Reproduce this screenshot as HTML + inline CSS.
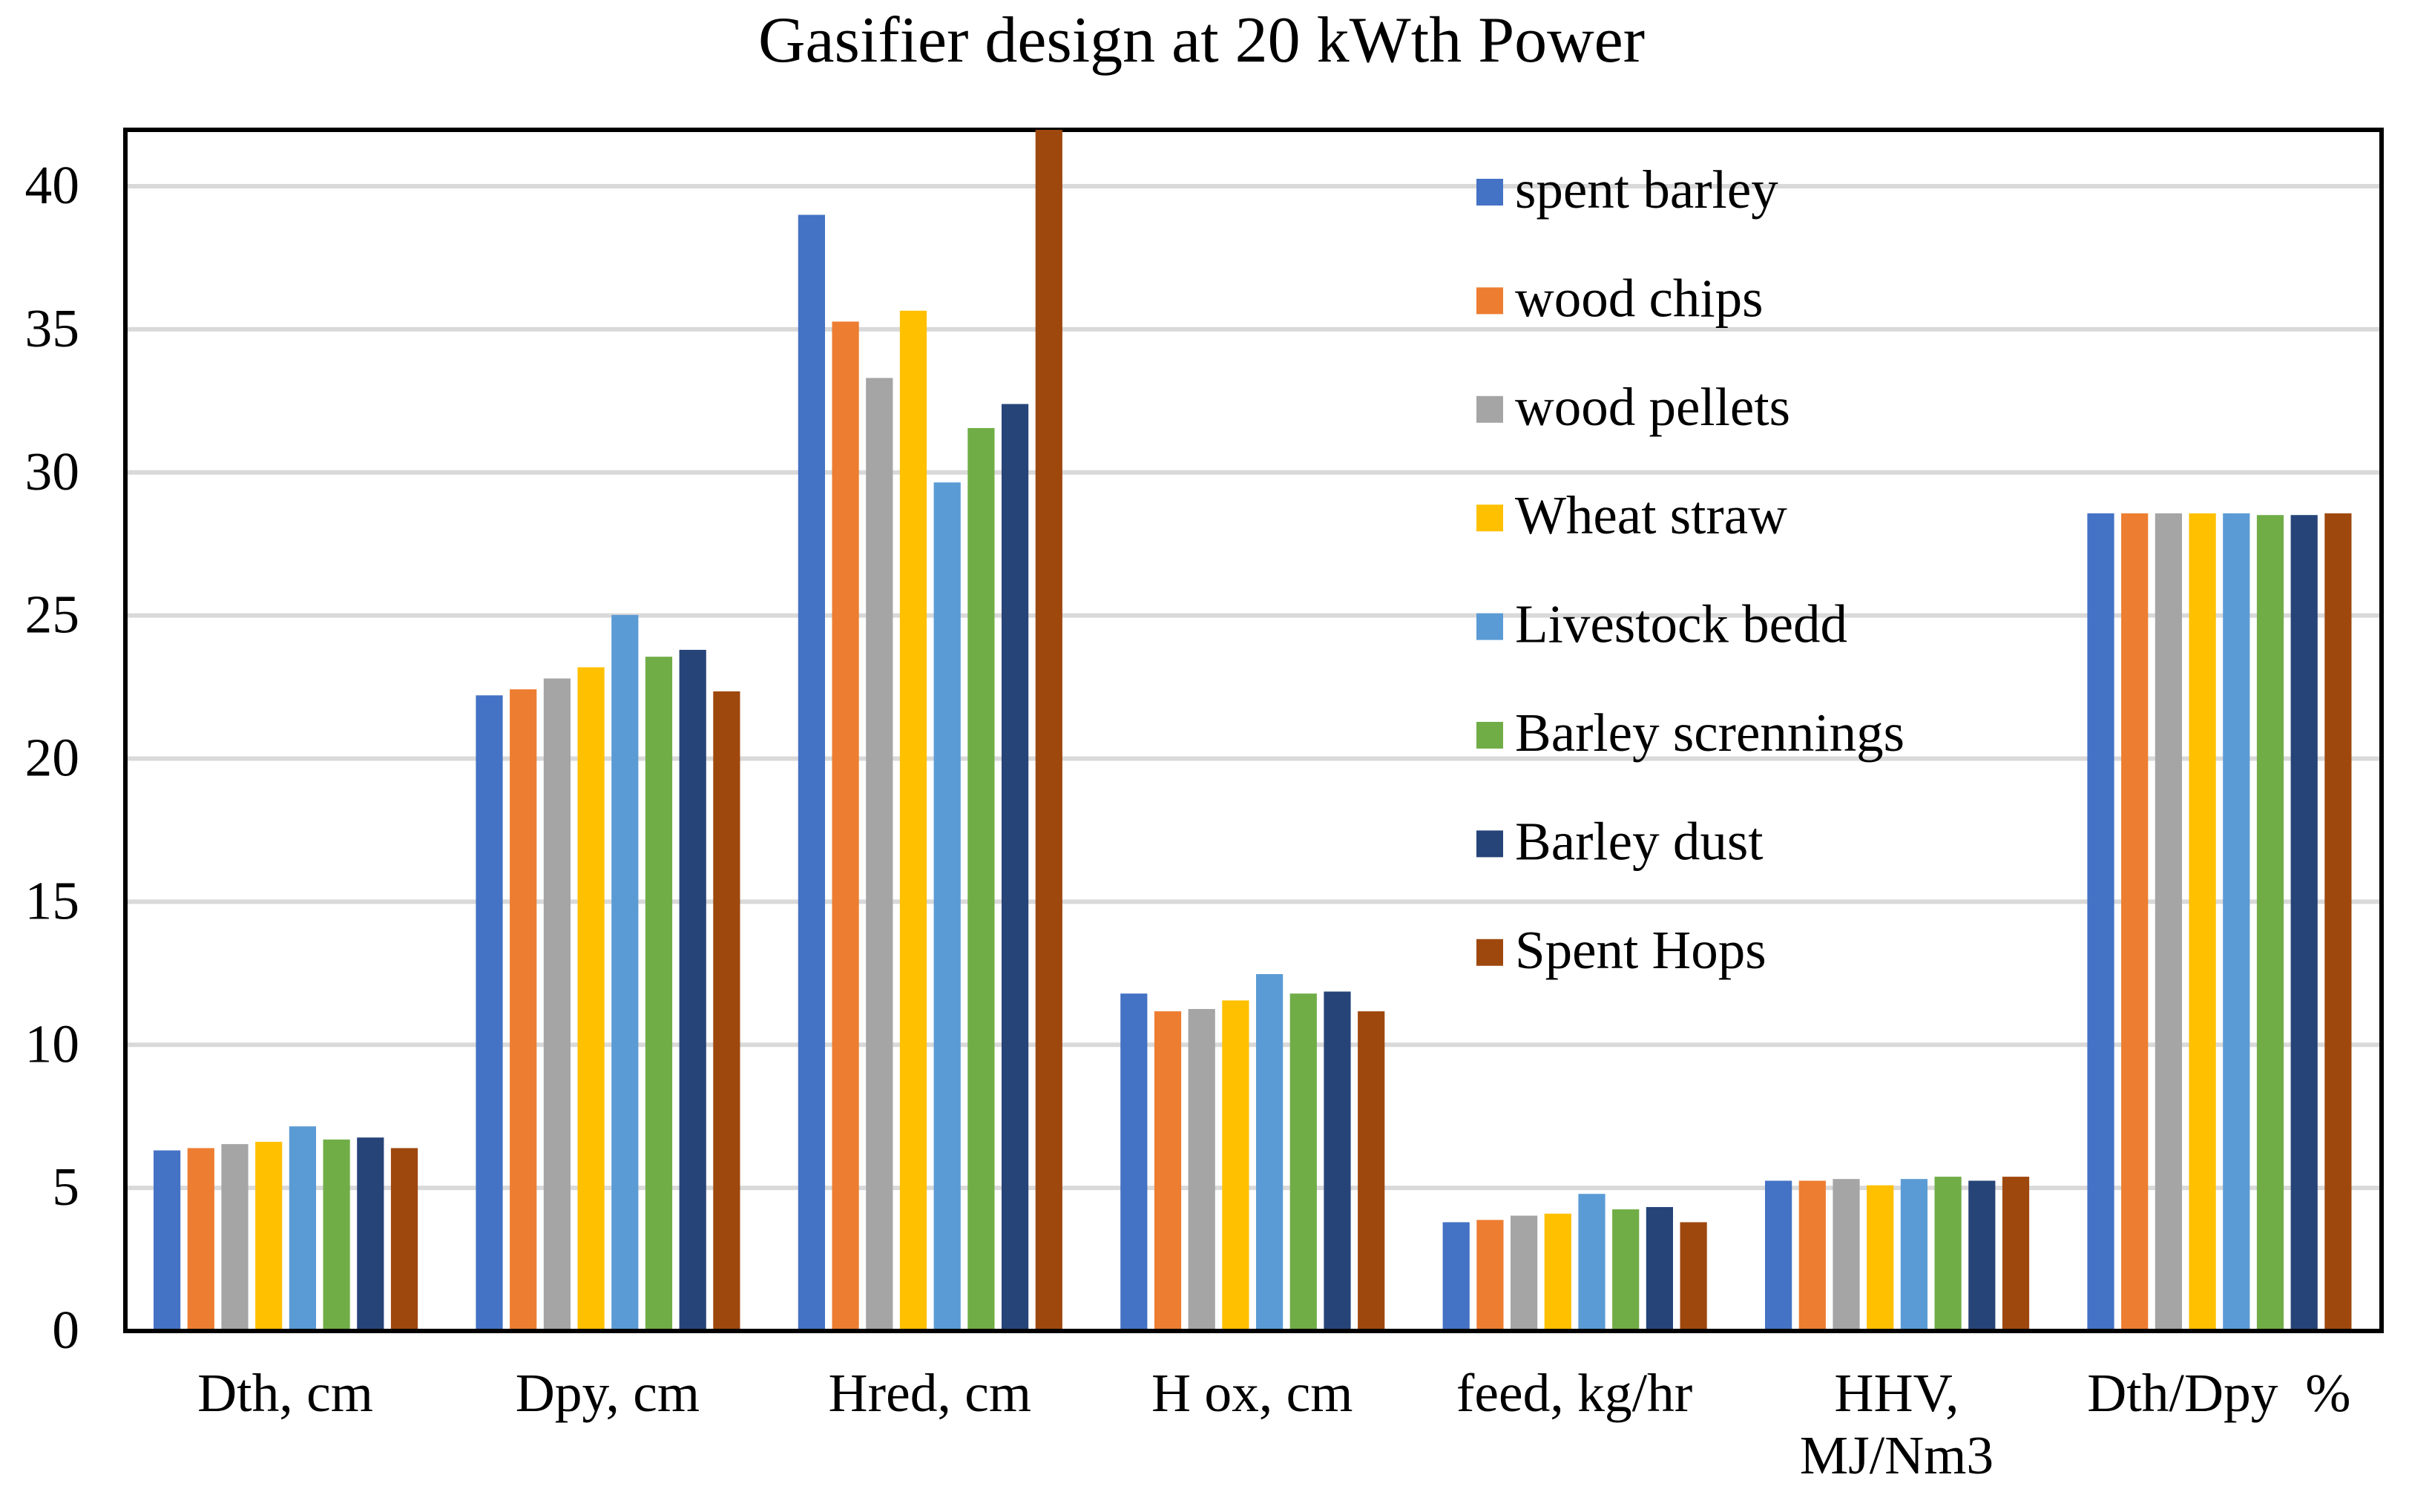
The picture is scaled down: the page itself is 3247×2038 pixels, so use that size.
<!DOCTYPE html>
<html lang="en">
<head>
<meta charset="utf-8">
<title>Gasifier design at 20 kWth Power</title>
<style>
  html, body { margin: 0; padding: 0; background: #ffffff; }
  #chart { display: block; width: 3247px; height: 2038px; }
  text { font-family: "Liberation Serif", "Times New Roman", serif; fill: #000000; font-size: 73.5px; white-space: pre; }
  #chart-title { font-size: 88px; }
  #legend-layer text { font-size: 73px; }
</style>
</head>
<body>
<svg id="chart" xmlns="http://www.w3.org/2000/svg" width="3247" height="2038" viewBox="0 0 3247 2038">
  <rect x="0" y="0" width="3247" height="2038" fill="#ffffff"/>
  <text id="chart-title" x="1022" y="83">Gasifier design at 20 kWth Power</text>
  <g id="grid-layer"></g>
  <rect x="169" y="175" width="3041" height="1619" fill="none" stroke="#000000" stroke-width="6"/>
  <g id="bar-layer"></g>
  <line x1="166" y1="1794" x2="3213" y2="1794" stroke="#000000" stroke-width="6"/>
  <g id="tick-layer"></g>
  <g id="category-layer"></g>
  <g id="legend-layer"></g>
</svg>
<script>
const categories = ["Dth, cm", "Dpy, cm", "Hred, cm", "H ox, cm", "feed, kg/hr", "HHV,\nMJ/Nm3", "Dth/Dpy  %"];
const tickLabels = [0, 5, 10, 15, 20, 25, 30, 35, 40];
const seriesNames = ["spent barley", "wood chips", "wood pellets", "Wheat straw", "Livestock bedd", "Barley scrennings", "Barley dust", "Spent Hops"];
const spentBarley = [6.31, 22.21, 39.0, 11.79, 3.80, 5.25, 28.57];
const woodChips = [6.39, 22.42, 35.27, 11.17, 3.88, 5.25, 28.57];
const woodPellets = [6.53, 22.80, 33.30, 11.25, 4.03, 5.31, 28.57];
const wheatStraw = [6.61, 23.19, 35.65, 11.55, 4.10, 5.09, 28.57];
const livestockBedd = [7.15, 25.02, 29.65, 12.47, 4.79, 5.31, 28.57];
const barleyScrennings = [6.69, 23.56, 31.55, 11.79, 4.25, 5.39, 28.51];
const barleyDust = [6.76, 23.80, 32.39, 11.86, 4.33, 5.25, 28.51];
const spentHops = [6.39, 22.35, 41.97, 11.17, 3.80, 5.39, 28.57];
const seriesValues = [spentBarley, woodChips, woodPellets, wheatStraw, livestockBedd, barleyScrennings, barleyDust, spentHops];
const seriesColors = ["#4472C4", "#ED7D31", "#A5A5A5", "#FFC000", "#5B9BD5", "#70AD47", "#264478", "#9E480E"];

const SVG_NS = "http://www.w3.org/2000/svg";
function yScale(v) { return 1794 - 38.575 * v; }
function bandStart(i) { return 167.3 + 434.4 * i; }
function barX(i, k) { return bandStart(i) + 39.7 + 45.7 * k; }
function make(tag) { return document.createElementNS(SVG_NS, tag); }

const gridLayer = document.getElementById("grid-layer");
const tickLayer = document.getElementById("tick-layer");
tickLabels.forEach(function (t) {
  if (t !== 0) {
    const line = make("line");
    
    
    line.setAttribute("x1", 172);
    line.setAttribute("x2", 3207);
    line.setAttribute("y1", yScale(t));
    line.setAttribute("y2", yScale(t));
    line.setAttribute("stroke", "#D9D9D9");
    line.setAttribute("stroke-width", 6);
    gridLayer.appendChild(line);
  }
  const label = make("text");
  
  
  label.setAttribute("x", 107);
  label.setAttribute("y", yScale(t) + 23);
  label.setAttribute("text-anchor", "end");
  label.textContent = String(t);
  tickLayer.appendChild(label);
});

const barLayer = document.getElementById("bar-layer");
seriesValues.forEach(function (values, k) {
  values.forEach(function (v, i) {
    const bar = make("rect");
    
    
    bar.setAttribute("x", barX(i, k));
    bar.setAttribute("y", yScale(v));
    bar.setAttribute("width", 36.2);
    bar.setAttribute("height", yScale(0) - yScale(v));
    bar.setAttribute("fill", seriesColors[k]);
    barLayer.appendChild(bar);
  });
});

const categoryLayer = document.getElementById("category-layer");
categories.forEach(function (name, i) {
  name.split("\n").forEach(function (part, n) {
    const label = make("text");
    
    
    label.setAttribute("x", bandStart(i) + 217.2);
    label.setAttribute("y", 1902 + 84 * n);
    label.setAttribute("text-anchor", "middle");
    label.textContent = part;
    categoryLayer.appendChild(label);
  });
});

const legendLayer = document.getElementById("legend-layer");
seriesNames.forEach(function (name, k) {
  const rowY = 259 + 146.4 * k;
  const swatch = make("rect");
  
  
  swatch.setAttribute("x", 1990);
  swatch.setAttribute("y", rowY - 18);
  swatch.setAttribute("width", 36);
  swatch.setAttribute("height", 36);
  swatch.setAttribute("fill", seriesColors[k]);
  legendLayer.appendChild(swatch);
  const label = make("text");
  
  
  label.setAttribute("x", 2042);
  label.setAttribute("y", rowY + 21);
  label.textContent = name;
  legendLayer.appendChild(label);
});
</script>
</body>
</html>
